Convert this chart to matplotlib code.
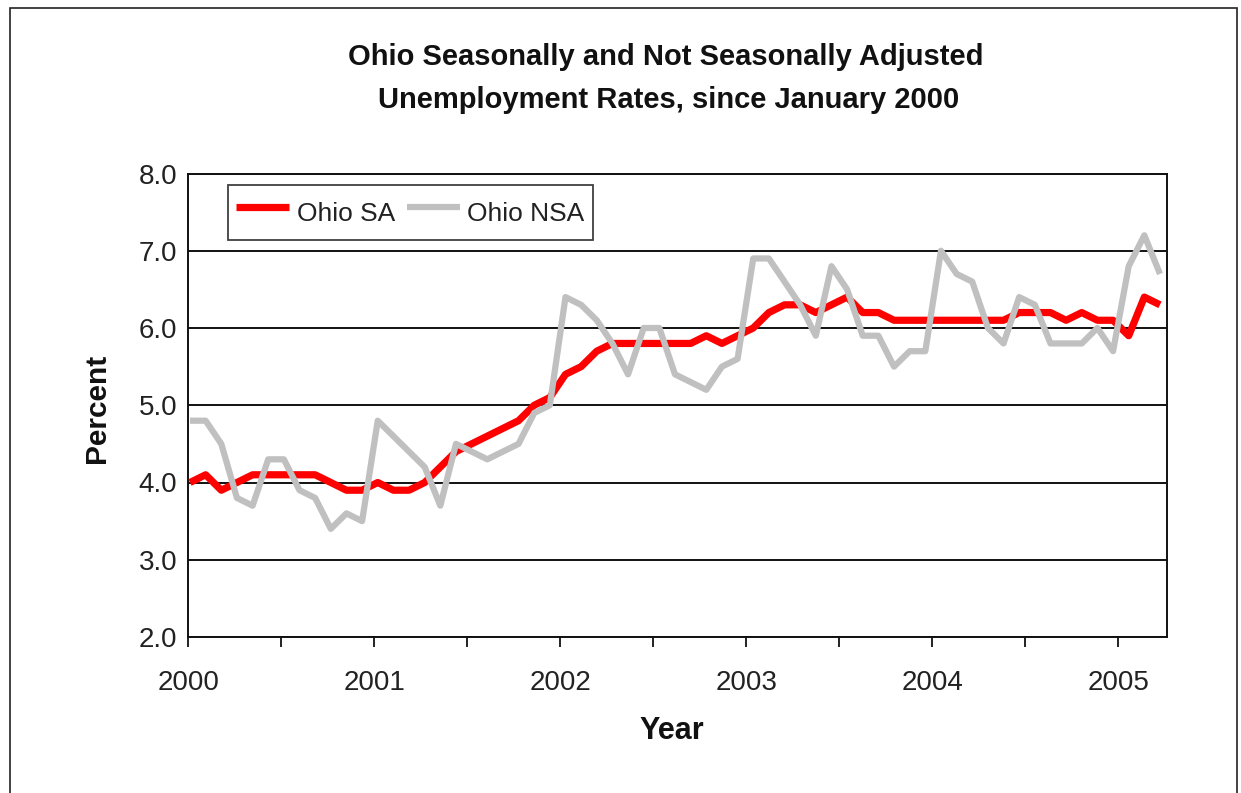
import matplotlib
matplotlib.use("Agg")
import matplotlib.pyplot as plt
from matplotlib.patches import Rectangle
import numpy as np

plt.rcParams['font.family'] = ['Liberation Sans', 'DejaVu Sans']

# ---- data (monthly, Jan 2000 - Mar 2005) ----
ohio_sa = [4.0, 4.1, 3.9, 4.0, 4.1, 4.1, 4.1, 4.1, 4.1, 4.0, 3.9, 3.9,
           4.0, 3.9, 3.9, 4.0, 4.2, 4.4, 4.5, 4.6, 4.7, 4.8, 5.0, 5.1,
           5.4, 5.5, 5.7, 5.8, 5.8, 5.8, 5.8, 5.8, 5.8, 5.9, 5.8, 5.9,
           6.0, 6.2, 6.3, 6.3, 6.2, 6.3, 6.4, 6.2, 6.2, 6.1, 6.1, 6.1,
           6.1, 6.1, 6.1, 6.1, 6.1, 6.2, 6.2, 6.2, 6.1, 6.2, 6.1, 6.1,
           5.9, 6.4, 6.3]
ohio_nsa = [4.8, 4.8, 4.5, 3.8, 3.7, 4.3, 4.3, 3.9, 3.8, 3.4, 3.6, 3.5,
            4.8, 4.6, 4.4, 4.2, 3.7, 4.5, 4.4, 4.3, 4.4, 4.5, 4.9, 5.0,
            6.4, 6.3, 6.1, 5.8, 5.4, 6.0, 6.0, 5.4, 5.3, 5.2, 5.5, 5.6,
            6.9, 6.9, 6.6, 6.3, 5.9, 6.8, 6.5, 5.9, 5.9, 5.5, 5.7, 5.7,
            7.0, 6.7, 6.6, 6.0, 5.8, 6.4, 6.3, 5.8, 5.8, 5.8, 6.0, 5.7,
            6.8, 7.2, 6.7]
year_labels = ["2000", "2001", "2002", "2003", "2004", "2005"]
y_ticks = [2.0, 3.0, 4.0, 5.0, 6.0, 7.0, 8.0]

months = np.arange(len(ohio_sa))

# ---- layout ----
W, H = 1241, 793
fig = plt.figure(figsize=(W / 100, H / 100), dpi=100)
fig.patch.set_facecolor('white')

left_px, right_px, top_px, bot_px = 188.3, 1166.7, 173.5, 637.0
ax = fig.add_axes([left_px / W, 1 - bot_px / H,
                   (right_px - left_px) / W, (bot_px - top_px) / H])

# outer frame of the chart object
fig.patches.append(Rectangle((10 / W, -0.05), (1237 - 10) / W, 1 - 8 / H + 0.05,
                             transform=fig.transFigure, fill=False,
                             edgecolor='#222222', linewidth=1.2))

# x scale: first point at 190 px, month spacing 15.645 px; ticks every 93 px from 188.3
month_px = 15.645
first_px = 190.0
ax.set_xlim((left_px - first_px) / month_px, (right_px - first_px) / month_px)
ax.set_ylim(2.0, 8.0)

tick_pos = [(left_px + 93.0 * k - first_px) / month_px for k in range(11)]
ax.set_xticks(tick_pos)
ax.set_xticklabels([year_labels[k // 2] if k % 2 == 0 else "" for k in range(11)])
ax.set_yticks(y_ticks)
ax.set_yticklabels([f"{v:.1f}" for v in y_ticks])

for v in y_ticks:
    ax.axhline(v, color='#111111', linewidth=1.4, zorder=1)

ax.plot(months, ohio_sa, color='#FF0000', linewidth=5.2, label='Ohio SA',
        solid_joinstyle='round', solid_capstyle='butt', zorder=3)
ax.plot(months, ohio_nsa, color='#C0C0C0', linewidth=4.5, label='Ohio NSA',
        solid_joinstyle='round', solid_capstyle='butt', zorder=4)

for s in ax.spines.values():
    s.set_color('#111111')
    s.set_linewidth(1.4)

ax.tick_params(axis='x', direction='out', length=7, width=1.3, labelsize=20,
               pad=17, colors='#111111')
ax.tick_params(axis='y', direction='out', length=0, width=1.3, labelsize=20,
               pad=8, colors='#111111')
for lbl in ax.get_xticklabels():
    lbl.set_color('#222222')
for lbl in ax.get_yticklabels():
    lbl.set_color('#222222')

leg = ax.legend(loc='upper left', bbox_to_anchor=(0.0406, 0.975), ncol=2,
                frameon=True, fancybox=False, shadow=False, fontsize=19,
                handlelength=2.0, handleheight=1.9, handletextpad=0.3,
                columnspacing=0.45, borderpad=0.3, borderaxespad=0.0)
leg.get_frame().set_edgecolor('#111111')
leg.get_frame().set_linewidth(1.3)
for t in leg.get_texts():
    t.set_color('#222222')

fig.text(666 / W, 1 - 57 / H, "Ohio Seasonally and Not Seasonally Adjusted",
         ha='center', va='center', fontsize=21, fontweight='bold', color='#111111')
fig.text(669 / W, 1 - 100 / H, "Unemployment Rates, since January 2000",
         ha='center', va='center', fontsize=21, fontweight='bold', color='#111111')
fig.text(97 / W, 1 - 408 / H, "Percent", rotation=90, ha='center', va='center',
         fontsize=21.5, fontweight='bold', color='#111111')
fig.text(672 / W, 1 - 731 / H, "Year", ha='center', va='center',
         fontsize=22, fontweight='bold', color='#111111')

fig.savefig("out.png", dpi=100, facecolor='white')
